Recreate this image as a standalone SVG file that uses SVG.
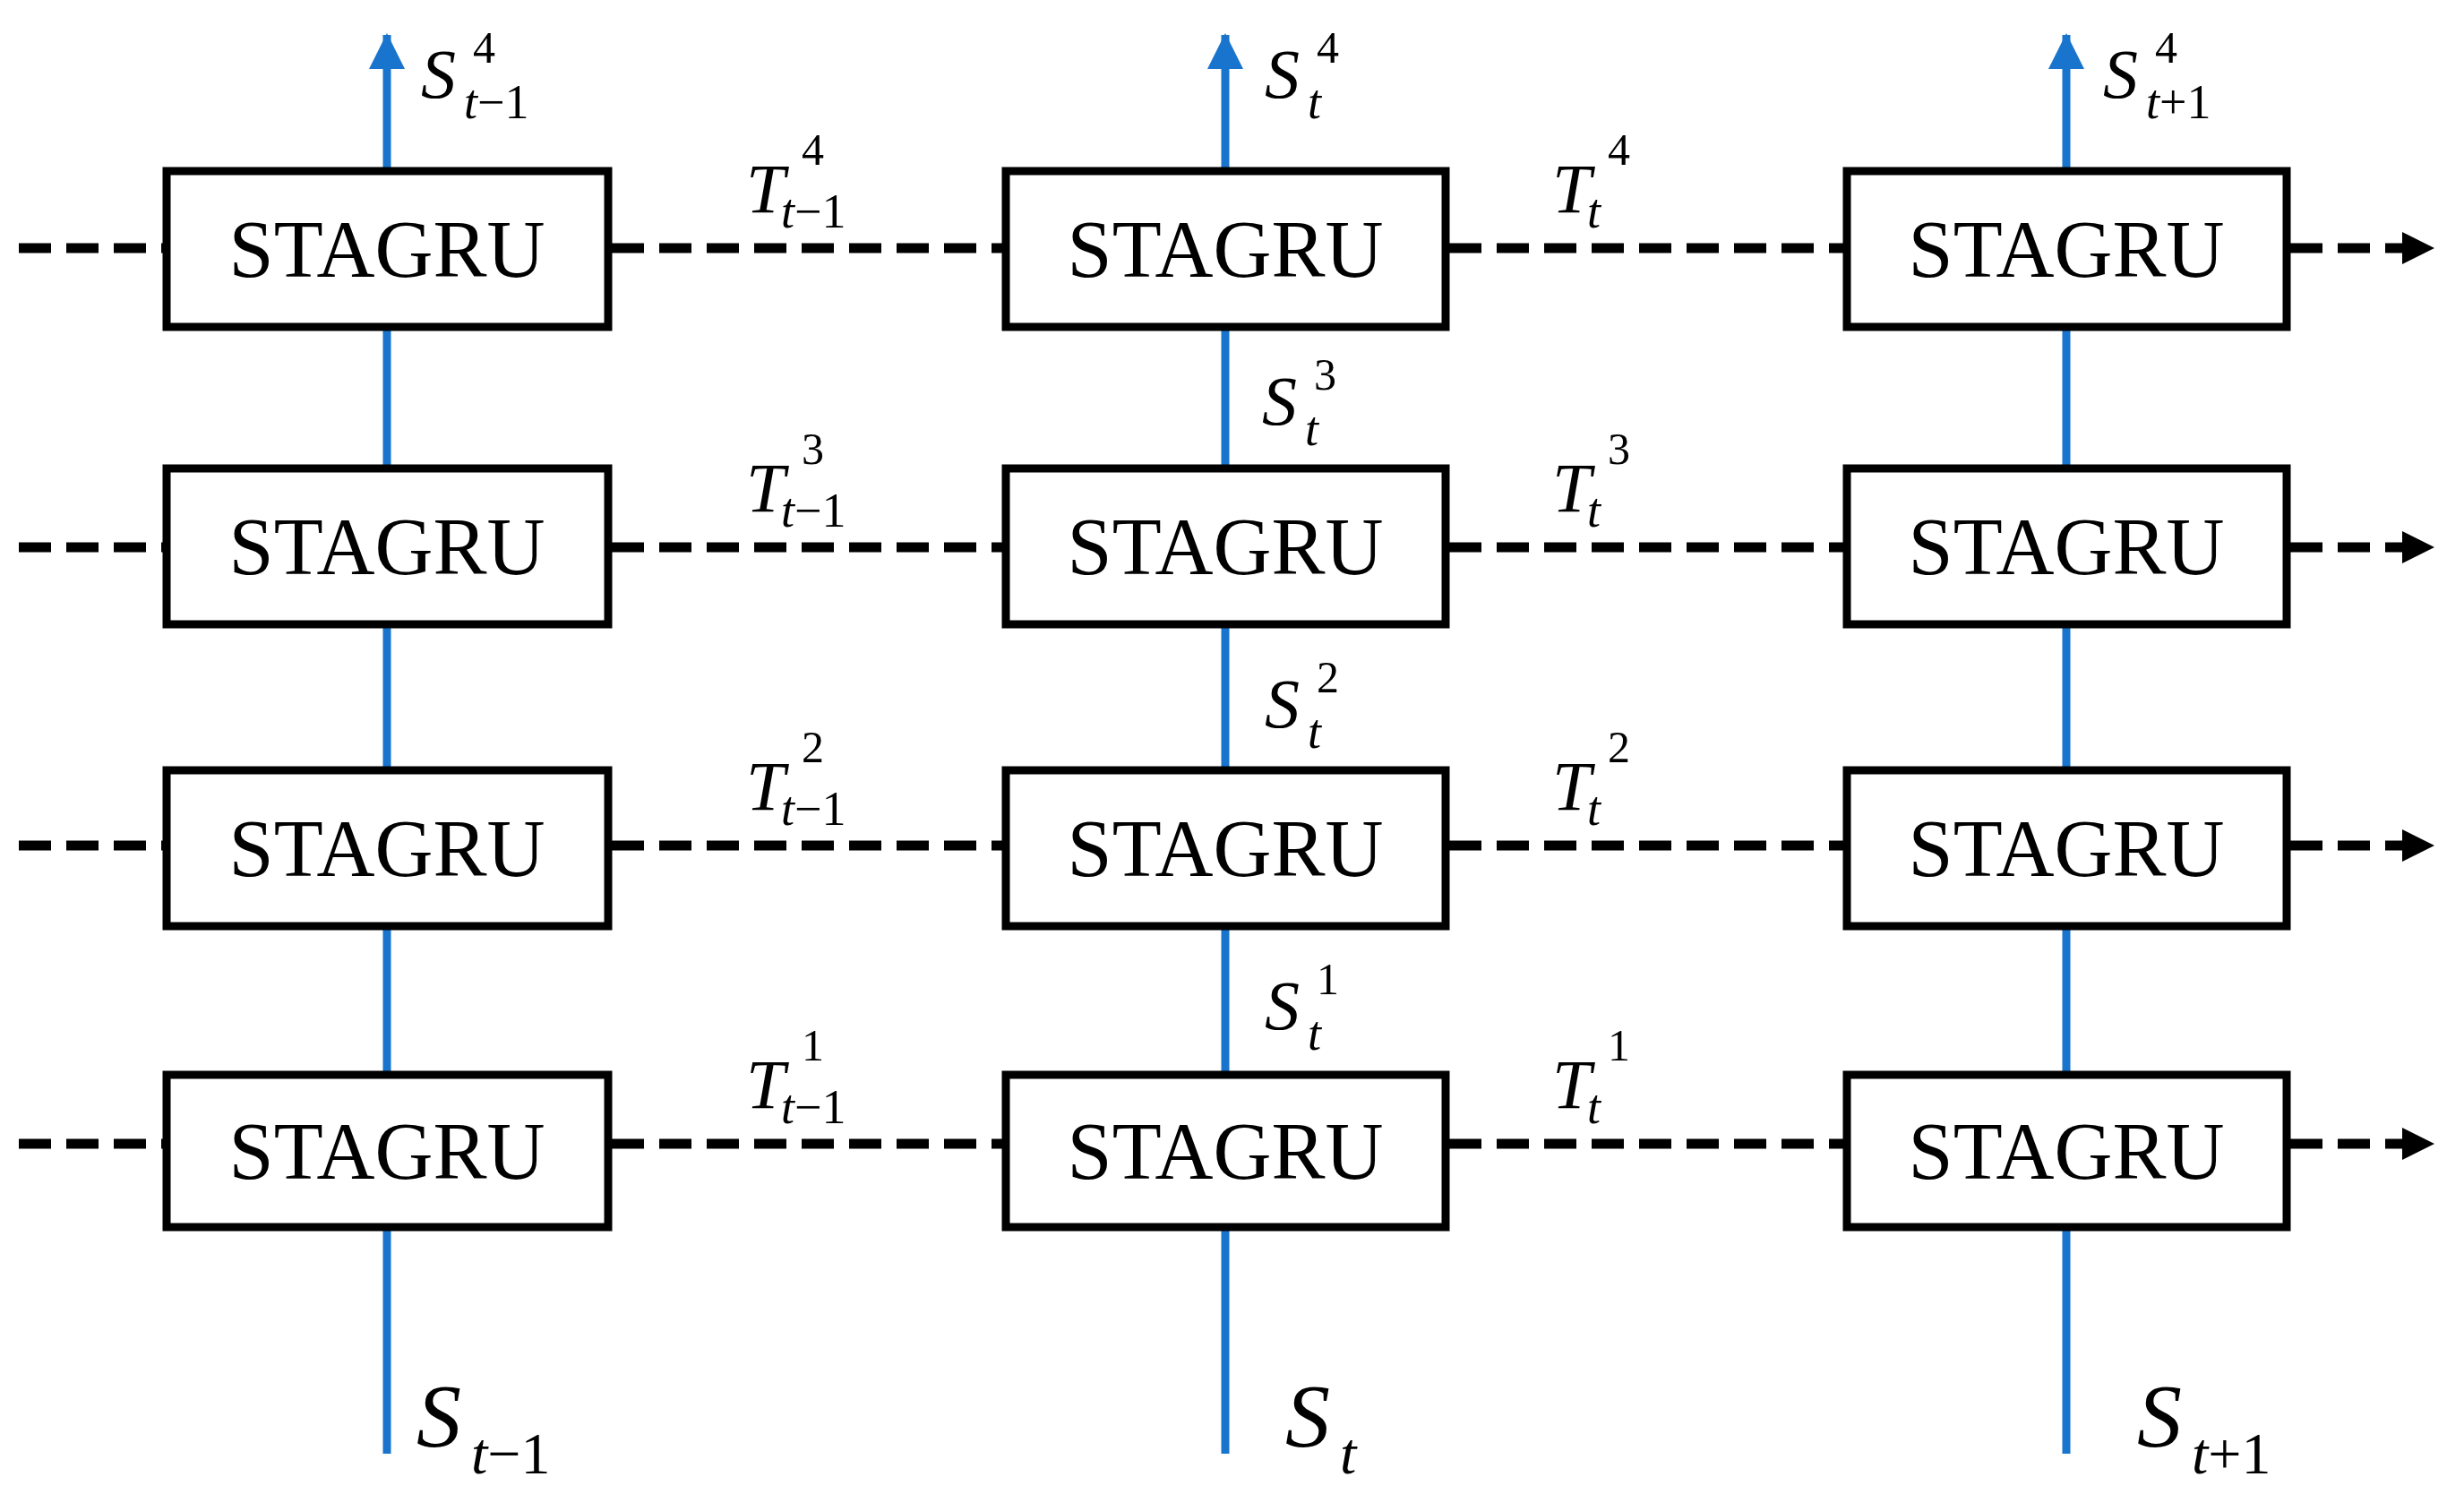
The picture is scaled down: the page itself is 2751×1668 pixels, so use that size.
<svg xmlns="http://www.w3.org/2000/svg" width="2751" height="1668" viewBox="0 0 2751 1668">
<style>
.box{fill:#fff;stroke:#000;stroke-width:9}
.lb{font-family:"Liberation Serif",serif;font-size:90px;text-anchor:middle}
.it{font-family:"Liberation Serif",serif;font-style:italic}
.up{font-family:"Liberation Serif",serif}
.d{stroke:#000;stroke-width:11;stroke-dasharray:36 17;fill:none}
.b{stroke:#1874CD;stroke-width:9;fill:none}
</style>
<defs>
<marker id="ka" markerUnits="userSpaceOnUse" markerWidth="40" markerHeight="40" refX="34" refY="20" orient="auto"><path d="M0,2 L36,20 L0,38 Z" fill="#000"/></marker>
<marker id="ba" markerUnits="userSpaceOnUse" markerWidth="40" markerHeight="44" refX="38" refY="20" orient="auto"><path d="M0,0 L40,20 L0,40 Z" fill="#1874CD"/></marker>
</defs>
<g id="connectors">
<g id="h">
<path class="d" d="M21,277H182M683,277H1119M1618,277H2058M2557,277H2716" marker-end="url(#ka)"/>
<path class="d" d="M21,611H182M683,611H1119M1618,611H2058M2557,611H2716" marker-end="url(#ka)"/>
<path class="d" d="M21,944H182M683,944H1119M1618,944H2058M2557,944H2716" marker-end="url(#ka)"/>
<path class="d" d="M21,1277H182M683,1277H1119M1618,1277H2058M2557,1277H2716" marker-end="url(#ka)"/>
</g>
<g id="v">
<path class="b" d="M432,1623V1374M432,1196V1037M432,856V701M432,519V369M432,187V39" marker-end="url(#ba)"/>
<path class="b" d="M1368,1623V1374M1368,1196V1037M1368,856V701M1368,519V369M1368,187V39" marker-end="url(#ba)"/>
<path class="b" d="M2307,1623V1374M2307,1196V1037M2307,856V701M2307,519V369M2307,187V39" marker-end="url(#ba)"/>
</g>
</g>
<g id="nodes">
<g id="n11"><rect class="box" x="186" y="191" width="493" height="174"/><text class="lb" x="432" y="309">STAGRU</text></g>
<g id="n21"><rect class="box" x="1123" y="191" width="491" height="174"/><text class="lb" x="1368" y="309">STAGRU</text></g>
<g id="n31"><rect class="box" x="2062" y="191" width="491" height="174"/><text class="lb" x="2307" y="309">STAGRU</text></g>
<g id="n12"><rect class="box" x="186" y="523" width="493" height="174"/><text class="lb" x="432" y="641">STAGRU</text></g>
<g id="n22"><rect class="box" x="1123" y="523" width="491" height="174"/><text class="lb" x="1368" y="641">STAGRU</text></g>
<g id="n32"><rect class="box" x="2062" y="523" width="491" height="174"/><text class="lb" x="2307" y="641">STAGRU</text></g>
<g id="n13"><rect class="box" x="186" y="860" width="493" height="174"/><text class="lb" x="432" y="978">STAGRU</text></g>
<g id="n23"><rect class="box" x="1123" y="860" width="491" height="174"/><text class="lb" x="1368" y="978">STAGRU</text></g>
<g id="n33"><rect class="box" x="2062" y="860" width="491" height="174"/><text class="lb" x="2307" y="978">STAGRU</text></g>
<g id="n14"><rect class="box" x="186" y="1200" width="493" height="170"/><text class="lb" x="432" y="1316">STAGRU</text></g>
<g id="n24"><rect class="box" x="1123" y="1200" width="491" height="170"/><text class="lb" x="1368" y="1316">STAGRU</text></g>
<g id="n34"><rect class="box" x="2062" y="1200" width="491" height="170"/><text class="lb" x="2307" y="1316">STAGRU</text></g>
</g>
<g id="labels" font-size="78">
<text x="470" y="109"><tspan class="it">S</tspan><tspan class="up" font-size="50" x="528" y="70">4</tspan><tspan class="it" font-size="54" x="518" y="132">t</tspan><tspan class="up" font-size="54">−1</tspan></text>
<text x="1412" y="109"><tspan class="it">S</tspan><tspan class="up" font-size="50" x="1470" y="70">4</tspan><tspan class="it" font-size="54" x="1460" y="132">t</tspan></text>
<text x="2348" y="109"><tspan class="it">S</tspan><tspan class="up" font-size="50" x="2406" y="70">4</tspan><tspan class="it" font-size="54" x="2396" y="132">t</tspan><tspan class="up" font-size="54">+1</tspan></text>
<text x="1409" y="474"><tspan class="it">S</tspan><tspan class="up" font-size="50" x="1467" y="435">3</tspan><tspan class="it" font-size="54" x="1457" y="497">t</tspan></text>
<text x="1412" y="812"><tspan class="it">S</tspan><tspan class="up" font-size="50" x="1470" y="773">2</tspan><tspan class="it" font-size="54" x="1460" y="835">t</tspan></text>
<text x="1412" y="1149"><tspan class="it">S</tspan><tspan class="up" font-size="50" x="1470" y="1110">1</tspan><tspan class="it" font-size="54" x="1460" y="1172">t</tspan></text>
<text x="833" y="237"><tspan class="it">T</tspan><tspan class="up" font-size="50" x="895" y="184">4</tspan><tspan class="it" font-size="54" x="872" y="254">t</tspan><tspan class="up" font-size="54">−1</tspan></text>
<text x="833" y="571"><tspan class="it">T</tspan><tspan class="up" font-size="50" x="895" y="518">3</tspan><tspan class="it" font-size="54" x="872" y="588">t</tspan><tspan class="up" font-size="54">−1</tspan></text>
<text x="833" y="904"><tspan class="it">T</tspan><tspan class="up" font-size="50" x="895" y="851">2</tspan><tspan class="it" font-size="54" x="872" y="921">t</tspan><tspan class="up" font-size="54">−1</tspan></text>
<text x="833" y="1237"><tspan class="it">T</tspan><tspan class="up" font-size="50" x="895" y="1184">1</tspan><tspan class="it" font-size="54" x="872" y="1254">t</tspan><tspan class="up" font-size="54">−1</tspan></text>
<text x="1733" y="237"><tspan class="it">T</tspan><tspan class="up" font-size="50" x="1795" y="184">4</tspan><tspan class="it" font-size="54" x="1772" y="254">t</tspan></text>
<text x="1733" y="571"><tspan class="it">T</tspan><tspan class="up" font-size="50" x="1795" y="518">3</tspan><tspan class="it" font-size="54" x="1772" y="588">t</tspan></text>
<text x="1733" y="904"><tspan class="it">T</tspan><tspan class="up" font-size="50" x="1795" y="851">2</tspan><tspan class="it" font-size="54" x="1772" y="921">t</tspan></text>
<text x="1733" y="1237"><tspan class="it">T</tspan><tspan class="up" font-size="50" x="1795" y="1184">1</tspan><tspan class="it" font-size="54" x="1772" y="1254">t</tspan></text>
<text x="465" y="1614" font-size="100"><tspan class="it">S</tspan><tspan class="it" font-size="66" x="526" y="1645">t</tspan><tspan class="up" font-size="66">−1</tspan></text>
<text x="1435" y="1614" font-size="100"><tspan class="it">S</tspan><tspan class="it" font-size="66" x="1496" y="1645">t</tspan></text>
<text x="2386" y="1614" font-size="100"><tspan class="it">S</tspan><tspan class="it" font-size="66" x="2447" y="1645">t</tspan><tspan class="up" font-size="66">+1</tspan></text>
</g>
</svg>
